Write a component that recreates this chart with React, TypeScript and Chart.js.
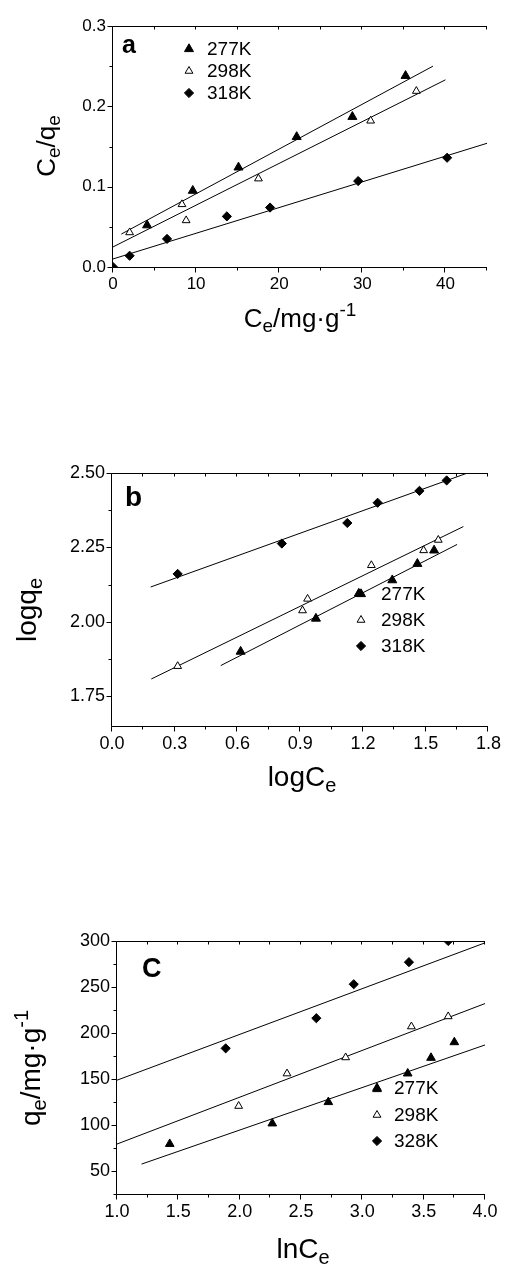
import React, { useEffect, useRef } from "react";
import { Chart, registerables } from "chart.js";
Chart.register(...registerables);

const FONT = "'Liberation Sans', Arial, Helvetica, sans-serif";

// ---------- Panel a : Ce/qe vs Ce ----------
const a277X = [4.1, 9.6, 15.1, 22.1, 28.8, 35.2];
const a277Y = [0.052, 0.095, 0.124, 0.162, 0.187, 0.238];
const a298X = [2.0, 8.3, 8.8, 17.5, 31.0, 36.5];
const a298Y = [0.043, 0.078, 0.058, 0.11, 0.182, 0.219];
const a318X = [0, 2.0, 6.5, 13.7, 18.9, 29.5, 40.2];
const a318Y = [0.0, 0.014, 0.035, 0.063, 0.074, 0.107, 0.136];
const aFit277X = [1.0, 38.5];
const aFit277Y = [0.041, 0.25];
const aFit298X = [0, 40];
const aFit298Y = [0.025, 0.233];
const aFit318X = [0, 45];
const aFit318Y = [0.01, 0.154];
const aXTicks = [0, 10, 20, 30, 40];
const aXMinor = [5, 15, 25, 35, 45];
const aYTicks = [0.0, 0.1, 0.2, 0.3];
const aYMinor = [0.05, 0.15, 0.25];
const aLegend = ["277K", "298K", "318K"];

// ---------- Panel b : log qe vs log Ce ----------
const b277X = [0.615, 0.975, 1.18, 1.34, 1.46, 1.54];
const b277Y = [1.9, 2.011, 2.095, 2.14, 2.195, 2.24];
const b298X = [0.314, 0.911, 0.935, 1.24, 1.49, 1.56];
const b298Y = [1.851, 2.038, 2.077, 2.19, 2.24, 2.275];
const b318X = [0.314, 0.812, 1.125, 1.27, 1.47, 1.6];
const b318Y = [2.161, 2.263, 2.332, 2.4, 2.44, 2.475];
const bFit277X = [0.52, 1.65];
const bFit277Y = [1.853, 2.26];
const bFit298X = [0.188, 1.68];
const bFit298Y = [1.808, 2.32];
const bFit318X = [0.185, 1.7];
const bFit318Y = [2.117, 2.5];
const bXTicks = [0.0, 0.3, 0.6, 0.9, 1.2, 1.5, 1.8];
const bXMinor = [0.15, 0.45, 0.75, 1.05, 1.35, 1.65];
const bYTicks = [1.75, 2.0, 2.25, 2.5];
const bYMinor = [1.875, 2.125, 2.375];
const bLegend = ["277K", "298K", "318K"];

// ---------- Panel c : qe vs ln Ce ----------
const c277X = [1.43, 2.266, 2.723, 3.12, 3.37, 3.56, 3.75];
const c277Y = [79.4, 101.7, 124.9, 139, 156, 173, 190];
const c298X = [1.992, 2.386, 2.864, 3.4, 3.7];
const c298Y = [120.6, 155.9, 173.4, 207, 218];
const c328X = [1.886, 2.625, 2.93, 3.38, 3.7];
const c328Y = [183.3, 216.1, 253, 277, 300];
const cFit277X = [1.2, 4.0];
const cFit277Y = [57.5, 187];
const cFit298X = [1.0, 4.0];
const cFit298Y = [79.3, 232];
const cFit328X = [1.0, 4.0];
const cFit328Y = [148.7, 298];
const cXTicks = [1.0, 1.5, 2.0, 2.5, 3.0, 3.5, 4.0];
const cXMinor = [1.25, 1.75, 2.25, 2.75, 3.25, 3.75];
const cYTicks = [50, 100, 150, 200, 250, 300];
const cYMinor = [25, 75, 125, 175, 225, 275];
const cLegend = ["277K", "298K", "328K"];

type Run = { t: string; s: number; dy: number };

function drawRuns(ctx: CanvasRenderingContext2D, runs: Run[], x: number, y: number, rot: number) {
  ctx.save();
  ctx.translate(x, y);
  if (rot) ctx.rotate(rot);
  let total = 0;
  for (const r of runs) {
    ctx.font = `${r.s}px ${FONT}`;
    total += ctx.measureText(r.t).width;
  }
  let cx = -total / 2;
  ctx.textAlign = "left";
  ctx.textBaseline = "alphabetic";
  ctx.fillStyle = "#000";
  for (const r of runs) {
    ctx.font = `${r.s}px ${FONT}`;
    ctx.fillText(r.t, cx, r.dy);
    cx += ctx.measureText(r.t).width;
  }
  ctx.restore();
}

type Series = { xs: number[]; ys: number[]; style: string; r: number; fill: string };
type PanelCfg = {
  top: number;
  height: number;
  area: { left: number; top: number; right: number; bottom: number };
  xMin: number; xMax: number; yMin: number; yMax: number;
  xTicks: number[]; xMinor: number[]; yTicks: number[]; yMinor: number[];
  xDigits: number; yDigits: number; tickSize: number;
  series: Series[];
  fits: { xs: number[]; ys: number[] }[];
  legend: string[];
  legendPos: { mx: number; tx: number; ys: number[]; size: number };
  label: { t: string; x: number; y: number; size: number };
  xTitle: { runs: Run[]; x: number; y: number };
  yTitle: { runs: Run[]; x: number; y: number };
};

function drawMarker(ctx: CanvasRenderingContext2D, s: Series, x: number, y: number) {
  ctx.save();
  ctx.fillStyle = s.fill;
  ctx.strokeStyle = "#000";
  ctx.lineWidth = 1;
  ctx.beginPath();
  const r = s.r;
  if (s.style === "triangle") {
    let rad = 0;
    ctx.moveTo(x + Math.sin(rad) * r, y - Math.cos(rad) * r);
    rad += (2 * Math.PI) / 3;
    ctx.lineTo(x + Math.sin(rad) * r, y - Math.cos(rad) * r);
    rad += (2 * Math.PI) / 3;
    ctx.lineTo(x + Math.sin(rad) * r, y - Math.cos(rad) * r);
  } else {
    ctx.moveTo(x - r, y);
    ctx.lineTo(x, y - r);
    ctx.lineTo(x + r, y);
    ctx.lineTo(x, y + r);
  }
  ctx.closePath();
  ctx.fill();
  ctx.stroke();
  ctx.restore();
}

function buildConfig(p: PanelCfg): any {
  const datasets: any[] = [
    ...p.fits.map((f) => ({
      type: "line",
      data: f.xs.map((x, i) => ({ x, y: f.ys[i] })),
      borderColor: "#000",
      borderWidth: 1,
      pointRadius: 0,
      fill: false,
      tension: 0,
      order: 2,
    })),
    ...p.series.map((s) => ({
      type: "scatter",
      data: s.xs.map((x, i) => ({ x, y: s.ys[i] })),
      pointStyle: s.style === "triangle" ? "triangle" : "rectRot",
      pointRadius: s.r,
      pointHoverRadius: s.r,
      backgroundColor: s.fill,
      borderColor: "#000",
      borderWidth: 1,
      order: 1,
    })),
  ];

  const decor = {
    id: "decor",
    afterDraw(chart: any) {
      const { ctx, chartArea: ca } = chart;
      const xs = chart.scales.x;
      const ys = chart.scales.y;
      const off = p.top;
      ctx.save();
      ctx.strokeStyle = "#000";
      ctx.lineWidth = 1;
      const L = Math.round(ca.left) - 0.5;
      const B = Math.round(ca.bottom) + 0.5;
      const T = Math.round(ca.top) + 0.5;
      const R = Math.round(ca.right);
      ctx.beginPath();
      ctx.moveTo(L, T);
      ctx.lineTo(L, B);
      ctx.lineTo(R, B);
      ctx.moveTo(L, T);
      ctx.lineTo(R, T);
      for (const v of p.xTicks) {
        const px = Math.round(xs.getPixelForValue(v)) - 0.5;
        ctx.moveTo(px, B);
        ctx.lineTo(px, B + 5);
        ctx.moveTo(px, T);
        ctx.lineTo(px, T + 3);
      }
      for (const v of p.xMinor) {
        const px = Math.round(xs.getPixelForValue(v)) - 0.5;
        ctx.moveTo(px, B);
        ctx.lineTo(px, B + 3);
        ctx.moveTo(px, T);
        ctx.lineTo(px, T + 3);
      }
      for (const v of p.yTicks) {
        const py = Math.round(ys.getPixelForValue(v)) + 0.5;
        ctx.moveTo(L, py);
        ctx.lineTo(L - 5, py);
      }
      for (const v of p.yMinor) {
        const py = Math.round(ys.getPixelForValue(v)) + 0.5;
        ctx.moveTo(L, py);
        ctx.lineTo(L - 3, py);
      }
      ctx.stroke();

      ctx.fillStyle = "#000";
      ctx.textAlign = "left";
      ctx.textBaseline = "middle";
      p.legend.forEach((t, i) => {
        const yy = p.legendPos.ys[i] - off;
        drawMarker(ctx, p.series[i], p.legendPos.mx, yy);
        ctx.fillStyle = "#000";
        ctx.font = `${p.legendPos.size}px ${FONT}`;
        ctx.textBaseline = "middle";
        ctx.fillText(t, p.legendPos.tx, yy + 1);
      });

      ctx.font = `bold ${p.label.size}px ${FONT}`;
      ctx.textBaseline = "alphabetic";
      ctx.fillText(p.label.t, p.label.x, p.label.y - off);

      drawRuns(ctx, p.xTitle.runs, p.xTitle.x, p.xTitle.y - off, 0);
      drawRuns(ctx, p.yTitle.runs, p.yTitle.x, p.yTitle.y - off, -Math.PI / 2);
      ctx.restore();
    },
  };

  const a = p.area;
  return {
    type: "scatter",
    data: { datasets },
    options: {
      animation: false,
      responsive: false,
      events: [],
      layout: {
        padding: { left: 0, top: a.top - p.top, right: 508 - a.right, bottom: 0 },
      },
      plugins: { legend: { display: false }, tooltip: { enabled: false } },
      scales: {
        x: {
          type: "linear",
          min: p.xMin,
          max: p.xMax,
          afterBuildTicks: (s: any) => {
            s.ticks = p.xTicks.map((v) => ({ value: v }));
          },
          afterFit: (s: any) => {
            s.height = p.top + p.height - a.bottom;
          },
          grid: { display: false, drawTicks: false },
          border: { display: false },
          ticks: {
            autoSkip: false,
            maxRotation: 0,
            padding: 7,
            color: "#000",
            font: { family: FONT, size: p.tickSize },
            callback: (v: any) => Number(v).toFixed(p.xDigits),
          },
        },
        y: {
          type: "linear",
          min: p.yMin,
          max: p.yMax,
          afterBuildTicks: (s: any) => {
            s.ticks = p.yTicks.map((v) => ({ value: v }));
          },
          afterFit: (s: any) => {
            s.width = a.left;
          },
          grid: { display: false, drawTicks: false },
          border: { display: false },
          ticks: {
            autoSkip: false,
            padding: 7,
            color: "#000",
            font: { family: FONT, size: p.tickSize },
            callback: (v: any) => Number(v).toFixed(p.yDigits),
          },
        },
      },
    },
    plugins: [decor],
  };
}

const TS = 26;
const SS = 19;

const panelA: PanelCfg = {
  top: 0,
  height: 345,
  area: { left: 113, top: 26, right: 487, bottom: 267 },
  xMin: 0, xMax: 45, yMin: 0, yMax: 0.3,
  xTicks: aXTicks, xMinor: aXMinor, yTicks: aYTicks, yMinor: aYMinor,
  xDigits: 0, yDigits: 1, tickSize: 17,
  series: [
    { xs: a277X, ys: a277Y, style: "triangle", r: 5.2, fill: "#000" },
    { xs: a298X, ys: a298Y, style: "triangle", r: 4.5, fill: "#fff" },
    { xs: a318X, ys: a318Y, style: "diamond", r: 4.6, fill: "#000" },
  ],
  fits: [
    { xs: aFit277X, ys: aFit277Y },
    { xs: aFit298X, ys: aFit298Y },
    { xs: aFit318X, ys: aFit318Y },
  ],
  legend: aLegend,
  legendPos: { mx: 189, tx: 207, ys: [49, 71, 93], size: 19 },
  label: { t: "a", x: 122, y: 53, size: 25 },
  xTitle: {
    runs: [
      { t: "C", s: TS, dy: 0 },
      { t: "e", s: SS, dy: 5 },
      { t: "/mg·g", s: TS, dy: 0 },
      { t: "-1", s: SS, dy: -11 },
    ],
    x: 300,
    y: 327,
  },
  yTitle: {
    runs: [
      { t: "C", s: TS, dy: 0 },
      { t: "e", s: SS, dy: 5 },
      { t: "/q", s: TS, dy: 0 },
      { t: "e", s: SS, dy: 5 },
    ],
    x: 55,
    y: 146,
  },
};

const panelB: PanelCfg = {
  top: 400,
  height: 400,
  area: { left: 112, top: 473, right: 492, bottom: 726 },
  xMin: 0, xMax: 1.8, yMin: 1.65, yMax: 2.5,
  xTicks: bXTicks, xMinor: bXMinor, yTicks: bYTicks, yMinor: bYMinor,
  xDigits: 1, yDigits: 2, tickSize: 18,
  series: [
    { xs: b277X, ys: b277Y, style: "triangle", r: 5.2, fill: "#000" },
    { xs: b298X, ys: b298Y, style: "triangle", r: 4.5, fill: "#fff" },
    { xs: b318X, ys: b318Y, style: "diamond", r: 4.6, fill: "#000" },
  ],
  fits: [
    { xs: bFit277X, ys: bFit277Y },
    { xs: bFit298X, ys: bFit298Y },
    { xs: bFit318X, ys: bFit318Y },
  ],
  legend: bLegend,
  legendPos: { mx: 361, tx: 381, ys: [594, 620, 646], size: 19 },
  label: { t: "b", x: 125, y: 506, size: 28 },
  xTitle: {
    runs: [
      { t: "logC", s: 28, dy: 0 },
      { t: "e", s: 20, dy: 6 },
    ],
    x: 302,
    y: 786,
  },
  yTitle: {
    runs: [
      { t: "logq", s: 28, dy: 0 },
      { t: "e", s: 20, dy: 6 },
    ],
    x: 36,
    y: 610,
  },
};

const panelC: PanelCfg = {
  top: 860,
  height: 409,
  area: { left: 117, top: 941, right: 485, bottom: 1194 },
  xMin: 1.0, xMax: 4.0, yMin: 25, yMax: 300,
  xTicks: cXTicks, xMinor: cXMinor, yTicks: cYTicks, yMinor: cYMinor,
  xDigits: 1, yDigits: 0, tickSize: 18,
  series: [
    { xs: c277X, ys: c277Y, style: "triangle", r: 5, fill: "#000" },
    { xs: c298X, ys: c298Y, style: "triangle", r: 4.5, fill: "#fff" },
    { xs: c328X, ys: c328Y, style: "diamond", r: 4.6, fill: "#000" },
  ],
  fits: [
    { xs: cFit277X, ys: cFit277Y },
    { xs: cFit298X, ys: cFit298Y },
    { xs: cFit328X, ys: cFit328Y },
  ],
  legend: cLegend,
  legendPos: { mx: 377, tx: 394, ys: [1088, 1115, 1141], size: 19 },
  label: { t: "C", x: 142, y: 977, size: 27 },
  xTitle: {
    runs: [
      { t: "lnC", s: 28, dy: 0 },
      { t: "e", s: 20, dy: 6 },
    ],
    x: 303,
    y: 1258,
  },
  yTitle: {
    runs: [
      { t: "q", s: 28, dy: 0 },
      { t: "e", s: 20, dy: 6 },
      { t: "/mg·g", s: 28, dy: 0 },
      { t: "-1", s: 20, dy: -12 },
    ],
    x: 40,
    y: 1068,
  },
};

function Panel({ cfg }: { cfg: PanelCfg }) {
  const ref = useRef<HTMLCanvasElement>(null);
  useEffect(() => {
    const chart = new Chart(ref.current as HTMLCanvasElement, buildConfig(cfg));
    return () => chart.destroy();
  }, [cfg]);
  return (
    <canvas
      ref={ref}
      width={508}
      height={cfg.height}
      style={{ position: "absolute", left: 0, top: cfg.top, width: 508, height: cfg.height }}
    />
  );
}

export default function App() {
  return (
    <div
      style={{
        position: "absolute",
        left: 0,
        top: 0,
        width: 508,
        height: 1269,
        background: "#fff",
        overflow: "hidden",
      }}
    >
      <Panel cfg={panelA} />
      <Panel cfg={panelB} />
      <Panel cfg={panelC} />
    </div>
  );
}
